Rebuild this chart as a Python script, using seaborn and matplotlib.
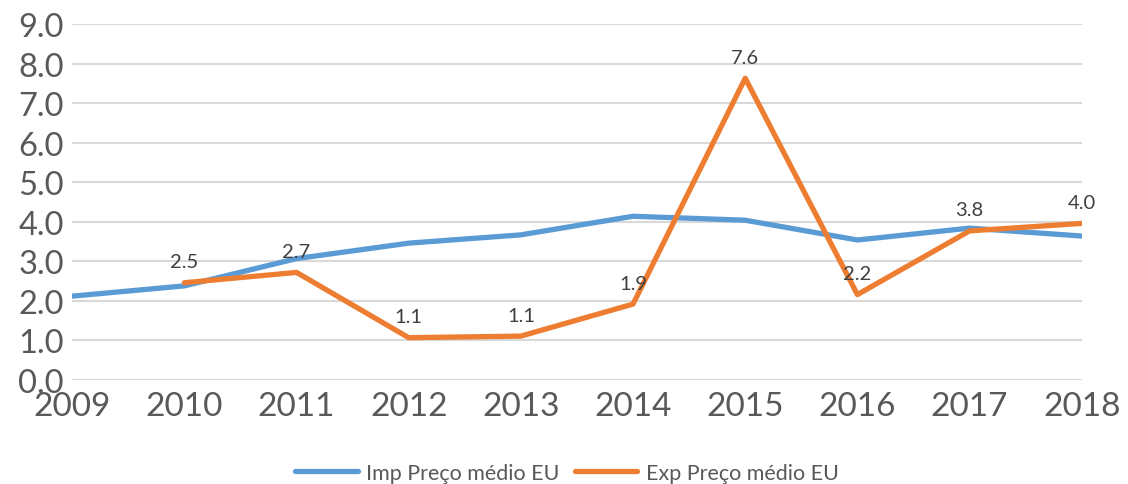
import numpy as np
import pandas as pd
import matplotlib
matplotlib.use("Agg")
import matplotlib.pyplot as plt
import seaborn as sns

years = [2009, 2010, 2011, 2012, 2013, 2014, 2015, 2016, 2017, 2018]
imp_vals = [2.12, 2.38, 3.07, 3.46, 3.67, 4.14, 4.04, 3.54, 3.84, 3.64]
exp_vals = [np.nan, 2.46, 2.72, 1.07, 1.11, 1.92, 7.63, 2.16, 3.77, 3.96]
exp_labels = [None, "2.5", "2.7", "1.1", "1.1", "1.9", "7.6", "2.2", "3.8", "4.0"]
series_names = ["Imp Preço médio EU", "Exp Preço médio EU"]
colors = ["#5b9bd5", "#ed7d31"]

sns.set_theme(style="white")
plt.rcParams['font.family'] = ['Lato', 'DejaVu Sans']

df = pd.DataFrame({
    "year": years * 2,
    "value": imp_vals + exp_vals,
    "series": [series_names[0]] * len(years) + [series_names[1]] * len(years),
})

fig = plt.figure(figsize=(11.28, 4.85), dpi=100)
ax = fig.add_axes([0.064, 0.2144, 0.895, 0.734])

sns.lineplot(data=df, x="year", y="value", hue="series", palette=colors,
             linewidth=3.8, ax=ax, legend=True, sort=False)

ax.set_xlim(2009, 2018)
ax.set_ylim(0, 9)
ax.set_yticks(np.arange(0, 10, 1))
ax.set_yticklabels([f"{v:.1f}" for v in np.arange(0, 10, 1)])
ax.set_xticks(years)
ax.set_xticklabels([str(y) for y in years])
ax.grid(axis="y", color="#d9d9d9", linewidth=1.5)
ax.set_axisbelow(True)
for s in ax.spines.values():
    s.set_visible(False)
ax.tick_params(axis="y", length=0, labelsize=23.5, colors="#595959", pad=6)
ax.tick_params(axis="x", length=0, labelsize=24, colors="#595959", pad=8)
ax.set_xlabel("")
ax.set_ylabel("")

for x, y, lab in zip(years, exp_vals, exp_labels):
    if lab is None:
        continue
    ax.annotate(lab, (x, y), xytext=(0, 9), textcoords="offset points",
                ha="center", va="bottom", fontsize=14.5, color="#404040")

handles, labels = ax.get_legend_handles_labels()
leg = ax.legend(handles, labels, loc="center", bbox_to_anchor=(0.49, -0.26),
                ncol=2, frameon=False, fontsize=15.5, handlelength=2.9,
                columnspacing=0.7, handletextpad=0.4)
for t in leg.get_texts():
    t.set_color("#595959")

fig.savefig("out.png", dpi=100)
